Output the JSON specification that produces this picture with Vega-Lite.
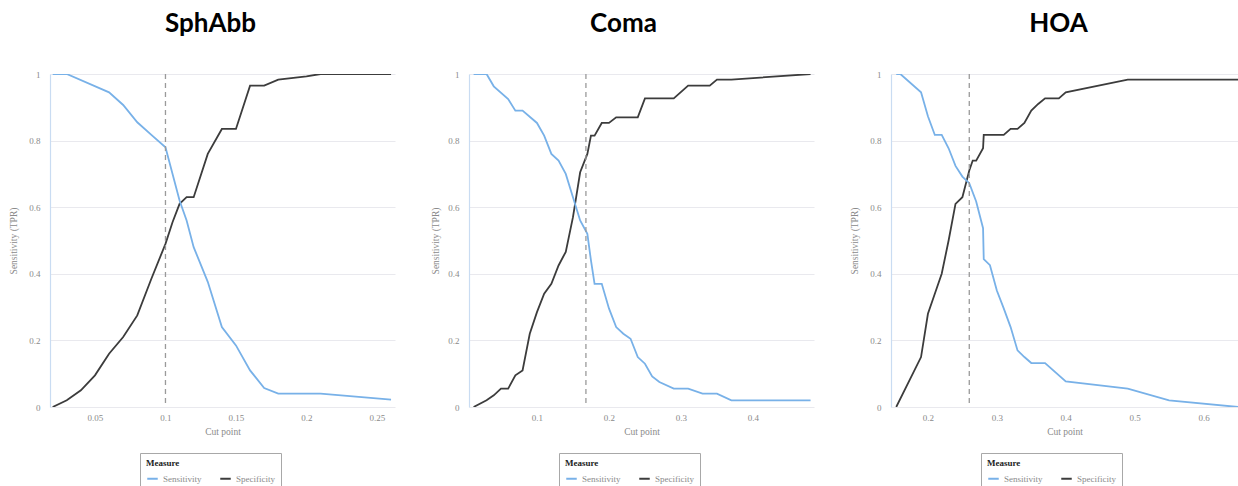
{
  "$schema": "https://vega.github.io/schema/vega-lite/v6.json",
  "padding": {"left": 8, "top": 11, "right": 0, "bottom": 0},
  "background": "white",
  "spacing": 35,
  "datasets": {
    "sph": [
      {"cut": 0.02, "value": 0, "measure": "Specificity"},
      {"cut": 0.03, "value": 0.02, "measure": "Specificity"},
      {"cut": 0.04, "value": 0.05, "measure": "Specificity"},
      {"cut": 0.05, "value": 0.095, "measure": "Specificity"},
      {"cut": 0.06, "value": 0.16, "measure": "Specificity"},
      {"cut": 0.07, "value": 0.21, "measure": "Specificity"},
      {"cut": 0.08, "value": 0.275, "measure": "Specificity"},
      {"cut": 0.09, "value": 0.385, "measure": "Specificity"},
      {"cut": 0.1, "value": 0.49, "measure": "Specificity"},
      {"cut": 0.105, "value": 0.555, "measure": "Specificity"},
      {"cut": 0.11, "value": 0.61, "measure": "Specificity"},
      {"cut": 0.115, "value": 0.63, "measure": "Specificity"},
      {"cut": 0.12, "value": 0.63, "measure": "Specificity"},
      {"cut": 0.13, "value": 0.76, "measure": "Specificity"},
      {"cut": 0.14, "value": 0.835, "measure": "Specificity"},
      {"cut": 0.15, "value": 0.835, "measure": "Specificity"},
      {"cut": 0.16, "value": 0.965, "measure": "Specificity"},
      {"cut": 0.17, "value": 0.965, "measure": "Specificity"},
      {"cut": 0.18, "value": 0.983, "measure": "Specificity"},
      {"cut": 0.2, "value": 0.993, "measure": "Specificity"},
      {"cut": 0.21, "value": 1, "measure": "Specificity"},
      {"cut": 0.26, "value": 1, "measure": "Specificity"},
      {"cut": 0.02, "value": 1, "measure": "Sensitivity"},
      {"cut": 0.03, "value": 1, "measure": "Sensitivity"},
      {"cut": 0.06, "value": 0.945, "measure": "Sensitivity"},
      {"cut": 0.07, "value": 0.907, "measure": "Sensitivity"},
      {"cut": 0.08, "value": 0.855, "measure": "Sensitivity"},
      {"cut": 0.09, "value": 0.817, "measure": "Sensitivity"},
      {"cut": 0.1, "value": 0.78, "measure": "Sensitivity"},
      {"cut": 0.11, "value": 0.62, "measure": "Sensitivity"},
      {"cut": 0.115, "value": 0.56, "measure": "Sensitivity"},
      {"cut": 0.12, "value": 0.48, "measure": "Sensitivity"},
      {"cut": 0.13, "value": 0.376, "measure": "Sensitivity"},
      {"cut": 0.14, "value": 0.24, "measure": "Sensitivity"},
      {"cut": 0.15, "value": 0.185, "measure": "Sensitivity"},
      {"cut": 0.16, "value": 0.11, "measure": "Sensitivity"},
      {"cut": 0.17, "value": 0.057, "measure": "Sensitivity"},
      {"cut": 0.18, "value": 0.04, "measure": "Sensitivity"},
      {"cut": 0.21, "value": 0.04, "measure": "Sensitivity"},
      {"cut": 0.26, "value": 0.022, "measure": "Sensitivity"}
    ],
    "coma": [
      {"cut": 0.012, "value": 0, "measure": "Specificity"},
      {"cut": 0.03, "value": 0.02, "measure": "Specificity"},
      {"cut": 0.04, "value": 0.035, "measure": "Specificity"},
      {"cut": 0.05, "value": 0.055, "measure": "Specificity"},
      {"cut": 0.06, "value": 0.055, "measure": "Specificity"},
      {"cut": 0.07, "value": 0.095, "measure": "Specificity"},
      {"cut": 0.08, "value": 0.11, "measure": "Specificity"},
      {"cut": 0.09, "value": 0.22, "measure": "Specificity"},
      {"cut": 0.1, "value": 0.285, "measure": "Specificity"},
      {"cut": 0.11, "value": 0.34, "measure": "Specificity"},
      {"cut": 0.12, "value": 0.37, "measure": "Specificity"},
      {"cut": 0.13, "value": 0.425, "measure": "Specificity"},
      {"cut": 0.14, "value": 0.466, "measure": "Specificity"},
      {"cut": 0.15, "value": 0.57, "measure": "Specificity"},
      {"cut": 0.16, "value": 0.705, "measure": "Specificity"},
      {"cut": 0.17, "value": 0.76, "measure": "Specificity"},
      {"cut": 0.175, "value": 0.815, "measure": "Specificity"},
      {"cut": 0.18, "value": 0.815, "measure": "Specificity"},
      {"cut": 0.19, "value": 0.853, "measure": "Specificity"},
      {"cut": 0.2, "value": 0.853, "measure": "Specificity"},
      {"cut": 0.21, "value": 0.87, "measure": "Specificity"},
      {"cut": 0.24, "value": 0.87, "measure": "Specificity"},
      {"cut": 0.25, "value": 0.927, "measure": "Specificity"},
      {"cut": 0.29, "value": 0.927, "measure": "Specificity"},
      {"cut": 0.31, "value": 0.965, "measure": "Specificity"},
      {"cut": 0.34, "value": 0.965, "measure": "Specificity"},
      {"cut": 0.35, "value": 0.983, "measure": "Specificity"},
      {"cut": 0.37, "value": 0.983, "measure": "Specificity"},
      {"cut": 0.48, "value": 1, "measure": "Specificity"},
      {"cut": 0.012, "value": 1, "measure": "Sensitivity"},
      {"cut": 0.03, "value": 1, "measure": "Sensitivity"},
      {"cut": 0.04, "value": 0.963, "measure": "Sensitivity"},
      {"cut": 0.06, "value": 0.925, "measure": "Sensitivity"},
      {"cut": 0.07, "value": 0.89, "measure": "Sensitivity"},
      {"cut": 0.08, "value": 0.89, "measure": "Sensitivity"},
      {"cut": 0.1, "value": 0.853, "measure": "Sensitivity"},
      {"cut": 0.11, "value": 0.815, "measure": "Sensitivity"},
      {"cut": 0.12, "value": 0.76, "measure": "Sensitivity"},
      {"cut": 0.13, "value": 0.74, "measure": "Sensitivity"},
      {"cut": 0.14, "value": 0.7, "measure": "Sensitivity"},
      {"cut": 0.15, "value": 0.63, "measure": "Sensitivity"},
      {"cut": 0.16, "value": 0.56, "measure": "Sensitivity"},
      {"cut": 0.17, "value": 0.52, "measure": "Sensitivity"},
      {"cut": 0.175, "value": 0.44, "measure": "Sensitivity"},
      {"cut": 0.18, "value": 0.37, "measure": "Sensitivity"},
      {"cut": 0.19, "value": 0.37, "measure": "Sensitivity"},
      {"cut": 0.2, "value": 0.296, "measure": "Sensitivity"},
      {"cut": 0.21, "value": 0.24, "measure": "Sensitivity"},
      {"cut": 0.22, "value": 0.22, "measure": "Sensitivity"},
      {"cut": 0.23, "value": 0.205, "measure": "Sensitivity"},
      {"cut": 0.24, "value": 0.15, "measure": "Sensitivity"},
      {"cut": 0.25, "value": 0.13, "measure": "Sensitivity"},
      {"cut": 0.26, "value": 0.092, "measure": "Sensitivity"},
      {"cut": 0.27, "value": 0.075, "measure": "Sensitivity"},
      {"cut": 0.29, "value": 0.055, "measure": "Sensitivity"},
      {"cut": 0.31, "value": 0.055, "measure": "Sensitivity"},
      {"cut": 0.33, "value": 0.04, "measure": "Sensitivity"},
      {"cut": 0.35, "value": 0.04, "measure": "Sensitivity"},
      {"cut": 0.37, "value": 0.02, "measure": "Sensitivity"},
      {"cut": 0.48, "value": 0.02, "measure": "Sensitivity"}
    ],
    "hoa": [
      {"cut": 0.154, "value": 0, "measure": "Specificity"},
      {"cut": 0.19, "value": 0.15, "measure": "Specificity"},
      {"cut": 0.2, "value": 0.28, "measure": "Specificity"},
      {"cut": 0.21, "value": 0.34, "measure": "Specificity"},
      {"cut": 0.22, "value": 0.4, "measure": "Specificity"},
      {"cut": 0.23, "value": 0.5, "measure": "Specificity"},
      {"cut": 0.24, "value": 0.61, "measure": "Specificity"},
      {"cut": 0.25, "value": 0.63, "measure": "Specificity"},
      {"cut": 0.26, "value": 0.71, "measure": "Specificity"},
      {"cut": 0.265, "value": 0.74, "measure": "Specificity"},
      {"cut": 0.27, "value": 0.74, "measure": "Specificity"},
      {"cut": 0.28, "value": 0.777, "measure": "Specificity"},
      {"cut": 0.281, "value": 0.817, "measure": "Specificity"},
      {"cut": 0.31, "value": 0.817, "measure": "Specificity"},
      {"cut": 0.32, "value": 0.835, "measure": "Specificity"},
      {"cut": 0.33, "value": 0.835, "measure": "Specificity"},
      {"cut": 0.34, "value": 0.853, "measure": "Specificity"},
      {"cut": 0.35, "value": 0.89, "measure": "Specificity"},
      {"cut": 0.36, "value": 0.91, "measure": "Specificity"},
      {"cut": 0.37, "value": 0.927, "measure": "Specificity"},
      {"cut": 0.39, "value": 0.927, "measure": "Specificity"},
      {"cut": 0.4, "value": 0.945, "measure": "Specificity"},
      {"cut": 0.49, "value": 0.983, "measure": "Specificity"},
      {"cut": 0.65, "value": 0.983, "measure": "Specificity"},
      {"cut": 0.154, "value": 1, "measure": "Sensitivity"},
      {"cut": 0.16, "value": 1, "measure": "Sensitivity"},
      {"cut": 0.19, "value": 0.945, "measure": "Sensitivity"},
      {"cut": 0.2, "value": 0.873, "measure": "Sensitivity"},
      {"cut": 0.21, "value": 0.817, "measure": "Sensitivity"},
      {"cut": 0.22, "value": 0.817, "measure": "Sensitivity"},
      {"cut": 0.23, "value": 0.777, "measure": "Sensitivity"},
      {"cut": 0.24, "value": 0.724, "measure": "Sensitivity"},
      {"cut": 0.25, "value": 0.692, "measure": "Sensitivity"},
      {"cut": 0.26, "value": 0.672, "measure": "Sensitivity"},
      {"cut": 0.27, "value": 0.617, "measure": "Sensitivity"},
      {"cut": 0.28, "value": 0.537, "measure": "Sensitivity"},
      {"cut": 0.281, "value": 0.444, "measure": "Sensitivity"},
      {"cut": 0.29, "value": 0.426, "measure": "Sensitivity"},
      {"cut": 0.3, "value": 0.35, "measure": "Sensitivity"},
      {"cut": 0.31, "value": 0.296, "measure": "Sensitivity"},
      {"cut": 0.32, "value": 0.24, "measure": "Sensitivity"},
      {"cut": 0.33, "value": 0.17, "measure": "Sensitivity"},
      {"cut": 0.34, "value": 0.15, "measure": "Sensitivity"},
      {"cut": 0.35, "value": 0.132, "measure": "Sensitivity"},
      {"cut": 0.37, "value": 0.132, "measure": "Sensitivity"},
      {"cut": 0.4, "value": 0.077, "measure": "Sensitivity"},
      {"cut": 0.49, "value": 0.055, "measure": "Sensitivity"},
      {"cut": 0.55, "value": 0.02, "measure": "Sensitivity"},
      {"cut": 0.65, "value": 0, "measure": "Sensitivity"}
    ]
  },
  "hconcat": [
    {
      "width": 345, "height": 333,
      "title": {"text": "SphAbb", "dx": -12},
      "layer": [
        {
          "data": {"name": "sph"},
          "mark": {"type": "line", "strokeWidth": 1.8, "clip": true},
          "encoding": {
            "x": {"field": "cut", "type": "quantitative", "title": "Cut point",
                  "scale": {"domain": [0.0181, 0.2628], "nice": false, "zero": false},
                  "axis": {"values": [0.05, 0.1, 0.15, 0.2, 0.25]}},
            "y": {"field": "value", "type": "quantitative", "title": "Sensitivity (TPR)",
                  "scale": {"domain": [0, 1], "nice": false},
                  "axis": {"values": [0, 0.2, 0.4, 0.6, 0.8, 1]}},
            "color": {"field": "measure", "type": "nominal", "title": "Measure",
                      "scale": {"domain": ["Sensitivity", "Specificity"], "range": ["#78b1e8", "#3c3c3c"]}}
          }
        },
        {
          "data": {"values": [{"cut": 0.1}]},
          "mark": {"type": "rule", "strokeDash": [5, 4], "color": "#9a9a9a", "strokeWidth": 1.3},
          "encoding": {"x": {"field": "cut", "type": "quantitative"}}
        }
      ]
    },
    {
      "width": 345, "height": 333,
      "title": {"text": "Coma", "dx": -18},
      "layer": [
        {
          "data": {"name": "coma"},
          "mark": {"type": "line", "strokeWidth": 1.8, "clip": true},
          "encoding": {
            "x": {"field": "cut", "type": "quantitative", "title": "Cut point",
                  "scale": {"domain": [0.0056, 0.4848], "nice": false, "zero": false},
                  "axis": {"values": [0.1, 0.2, 0.3, 0.4]}},
            "y": {"field": "value", "type": "quantitative", "title": "Sensitivity (TPR)",
                  "scale": {"domain": [0, 1], "nice": false},
                  "axis": {"values": [0, 0.2, 0.4, 0.6, 0.8, 1], "titlePadding": 7}},
            "color": {"field": "measure", "type": "nominal", "title": "Measure",
                      "scale": {"domain": ["Sensitivity", "Specificity"], "range": ["#78b1e8", "#3c3c3c"]}}
          }
        },
        {
          "data": {"values": [{"cut": 0.168}]},
          "mark": {"type": "rule", "strokeDash": [5, 4], "color": "#9a9a9a", "strokeWidth": 1.3},
          "encoding": {"x": {"field": "cut", "type": "quantitative"}}
        }
      ]
    },
    {
      "width": 347, "height": 333,
      "title": {"text": "HOA", "dx": -6},
      "layer": [
        {
          "data": {"name": "hoa"},
          "mark": {"type": "line", "strokeWidth": 1.8, "clip": true},
          "encoding": {
            "x": {"field": "cut", "type": "quantitative", "title": "Cut point",
                  "scale": {"domain": [0.1464, 0.65], "nice": false, "zero": false},
                  "axis": {"values": [0.2, 0.3, 0.4, 0.5, 0.6]}},
            "y": {"field": "value", "type": "quantitative", "title": "Sensitivity (TPR)",
                  "scale": {"domain": [0, 1], "nice": false},
                  "axis": {"values": [0, 0.2, 0.4, 0.6, 0.8, 1]}},
            "color": {"field": "measure", "type": "nominal", "title": "Measure",
                      "scale": {"domain": ["Sensitivity", "Specificity"], "range": ["#78b1e8", "#3c3c3c"]}}
          }
        },
        {
          "data": {"values": [{"cut": 0.26}]},
          "mark": {"type": "rule", "strokeDash": [5, 4], "color": "#9a9a9a", "strokeWidth": 1.3},
          "encoding": {"x": {"field": "cut", "type": "quantitative"}}
        }
      ]
    }
  ],
  "resolve": {"scale": {"color": "independent", "x": "independent", "y": "independent"}, "legend": {"color": "independent"}},
  "config": {
    "view": {"stroke": null},
    "font": "Liberation Serif",
    "title": {"font": "Lato", "fontSize": 26, "fontWeight": "bold", "color": "#000000", "anchor": "middle", "offset": 33},
    "axisX": {"domain": false, "ticks": false, "grid": false, "labelFont": "Liberation Serif", "labelFontSize": 9, "labelColor": "#8a8a8a", "labelPadding": 6, "titleFont": "Liberation Serif", "titleFontSize": 9.5, "titleFontWeight": "normal", "titleColor": "#8a8a8a", "titlePadding": 4, "format": "~g"},
    "axisY": {"domain": true, "domainColor": "#c9dcf2", "domainWidth": 1.2, "ticks": false, "grid": true, "gridColor": "#e9e9ee", "gridWidth": 1.2, "format": "~g", "labelFont": "Liberation Serif", "labelFontSize": 9, "labelColor": "#8a8a8a", "labelPadding": 10, "titleFont": "Liberation Serif", "titleFontSize": 9.5, "titleFontWeight": "normal", "titleColor": "#8a8a8a", "titlePadding": 10},
    "legend": {"orient": "none", "legendX": 90, "legendY": 379, "direction": "horizontal", "strokeColor": "#a8a8a8", "padding": 6, "symbolType": "stroke", "symbolStrokeWidth": 2, "symbolSize": 110, "titleFont": "Liberation Serif", "titleFontSize": 9, "titleFontWeight": "bold", "titleColor": "#222222", "labelFont": "Liberation Serif", "labelFontSize": 9, "labelColor": "#8a8a8a", "columnPadding": 14, "titlePadding": 4}
  }
}
